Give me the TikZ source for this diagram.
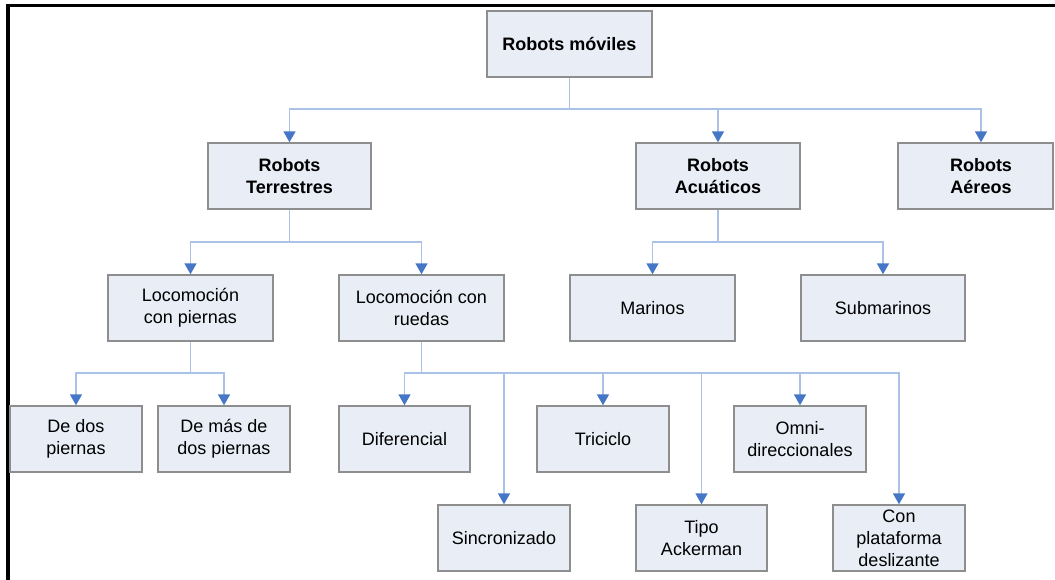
\documentclass[tikz,border=0pt]{standalone}
\usepackage{fontspec}
\setmainfont{Liberation Sans}
\usetikzlibrary{arrows.meta}
\definecolor{boxfill}{HTML}{E8EDF6}
\definecolor{boxline}{HTML}{8E8E8E}
\definecolor{wireblue}{HTML}{A9C2E6}
\definecolor{tipblue}{HTML}{4677C6}
\begin{document}
\begin{tikzpicture}[x=1pt,y=-1pt,
  box/.style={draw=boxline, line width=1.4pt, fill=boxfill, align=center,
    inner sep=0pt, font=\fontsize{18}{22}\selectfont, minimum height=66pt},
  wide/.style={box, minimum width=165pt},
  narrow/.style={box, minimum width=132pt},
  head/.style={font=\fontsize{18}{22}\selectfont\bfseries},
  wire/.style={draw=wireblue, line width=1.6pt},
  link/.style={wire, -{Triangle[width=12pt,length=11pt,color=tipblue]}},
]
\useasboundingbox (0,0) rectangle (1055,580);
% frame along the top and left
\draw[line width=3.6pt] (1060,5.7) -- (8,5.7) -- (8,590);

% level 0
\node[wide, head] (mov) at (569.5,44) {Robots móviles};
% level 1
\node[wide, head, minimum width=163pt] (ter) at (289.5,176) {Robots\\Terrestres};
\node[wide, head, minimum width=164pt] (acu) at (718,176) {Robots\\Acuáticos};
% box cut short at the right edge, text kept on its arrow
\node[wide, head, minimum width=155pt] (aer) at (975.5,176)
  {\hspace*{11pt}Robots\\\hspace*{11pt}Aéreos};
% level 2
\node[wide] (pie) at (190.5,308) {Locomoción\\con piernas};
\node[wide] (rue) at (421.5,308) {Locomoción con\\ruedas};
\node[wide] (mar) at (652.5,308) {Marinos};
\node[wide, minimum width=164pt] (sub) at (883,308) {Submarinos};
% level 3
\node[narrow] (dos) at (76,439) {De dos\\piernas};
\node[narrow] (mas) at (224,439) {De más de\\dos piernas};
\node[narrow, minimum width=131pt] (dif) at (404.5,439) {Diferencial};
\node[narrow] (tri) at (603,439) {Triciclo};
\node[narrow] (omn) at (800,439) {Omni-\\direccionales};
% level 4
\node[narrow] (sin) at (504,538) {Sincronizado};
\node[narrow, minimum width=131pt] (ack) at (701.5,538) {Tipo\\Ackerman};
\node[narrow] (con) at (899,538) {Con\\plataforma\\deslizante};

% branching points
\coordinate (b0) at (569.5,109);
\coordinate (b1) at (289.5,242);
\coordinate (b2) at (718,242);
\coordinate (b3) at (190.5,373);
\coordinate (b4) at (421.5,373);

% connectors
\draw[wire] (mov.south) -- (b0);
\draw[link] (b0) -| (ter.north);
\draw[link] (b0) -| (acu.north);
\draw[link] (b0) -| ([xshift=5.5pt]aer.north);

\draw[wire] (ter.south) -- (b1);
\draw[link] (b1) -| (pie.north);
\draw[link] (b1) -| (rue.north);

\draw[wire] (acu.south) -- (b2);
\draw[link] (b2) -| (mar.north);
\draw[link] (b2) -| (sub.north);

\draw[wire] (pie.south) -- (b3);
\draw[link] (b3) -| (dos.north);
\draw[link] (b3) -| (mas.north);

\draw[wire] (rue.south) -- (b4);
\draw[link] (b4) -| (dif.north);
\draw[link] (b4) -| (sin.north);
\draw[link] (b4) -| (tri.north);
\draw[link] (b4) -| (ack.north);
\draw[link] (b4) -| (omn.north);
\draw[link] (b4) -| (con.north);
\end{tikzpicture}
\end{document}
